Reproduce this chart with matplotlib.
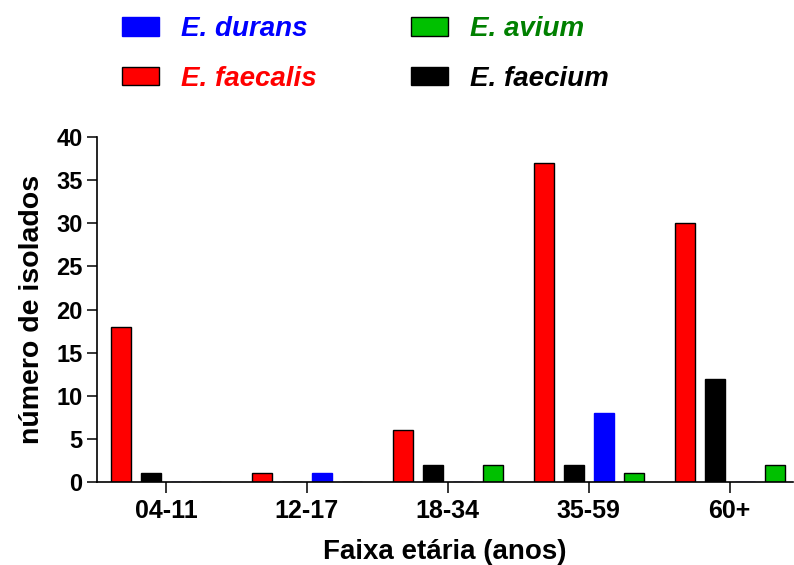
import numpy as np
import matplotlib.pyplot as plt

plt.rcParams['font.family'] = ['Liberation Sans', 'DejaVu Sans']
plt.rcParams['font.weight'] = 'bold'

faixas = ['04-11', '12-17', '18-34', '35-59', '60+']
faecalis = [18, 1, 6, 37, 30]
faecium = [1, 0, 2, 2, 12]
durans = [0, 1, 0, 8, 0]
avium = [0, 0, 2, 1, 2]

series = [
    ('E. faecalis', faecalis, '#ff0000', 'black', '#ff0000'),
    ('E. faecium', faecium, 'black', 'black', 'black'),
    ('E. durans', durans, '#0000ff', '#0000ff', '#0000ff'),
    ('E. avium', avium, '#00c000', 'black', '#008000'),
]

fig = plt.figure(figsize=(7.94, 5.65), dpi=100)
ax = fig.add_axes([97 / 794, 1 - 482 / 565, (793 - 97) / 794, (482 - 137) / 565])

x = np.arange(len(faixas))
step = 0.213
width = 0.142
bars = {}
for i, (name, vals, fc, ec, tc) in enumerate(series):
    bars[name] = ax.bar(x + (i - 1.5) * step, vals, width, color=fc,
                        edgecolor=ec, linewidth=1.0, label=name)

ax.set_xlim(-0.49, 4.45)
ax.set_ylim(0, 40)
ax.set_yticks(range(0, 41, 5))
ax.set_xticks(x)
ax.set_xticklabels(faixas)
ax.tick_params(axis='both', labelsize=17, width=1.1, length=7, direction='out')
ax.tick_params(axis='x', labelsize=18, length=8, pad=4)
for s in ['top', 'right']:
    ax.spines[s].set_visible(False)
for s in ['left', 'bottom']:
    ax.spines[s].set_linewidth(1.2)

ax.set_xlabel('Faixa etária (anos)', fontsize=20, fontweight='bold', labelpad=12)
ax.set_ylabel('número de isolados', fontsize=20.5, fontweight='bold', labelpad=8)

order = ['E. durans', 'E. faecalis', 'E. avium', 'E. faecium']
handles = [bars[n] for n in order]
leg = fig.legend(handles, order, ncol=2, frameon=False,
                 loc='upper left', bbox_to_anchor=(122 / 794, 1 - 16 / 565),
                 borderpad=0, borderaxespad=0,
                 prop={'size': 20, 'weight': 'bold', 'style': 'italic'},
                 handlelength=1.33, handleheight=0.65, handletextpad=0.8,
                 columnspacing=3.4, labelspacing=0.85)
colors = {n: tc for n, _, _, _, tc in series}
for t, n in zip(leg.get_texts(), order):
    t.set_color(colors[n])

fig.savefig('out.png', dpi=100)
